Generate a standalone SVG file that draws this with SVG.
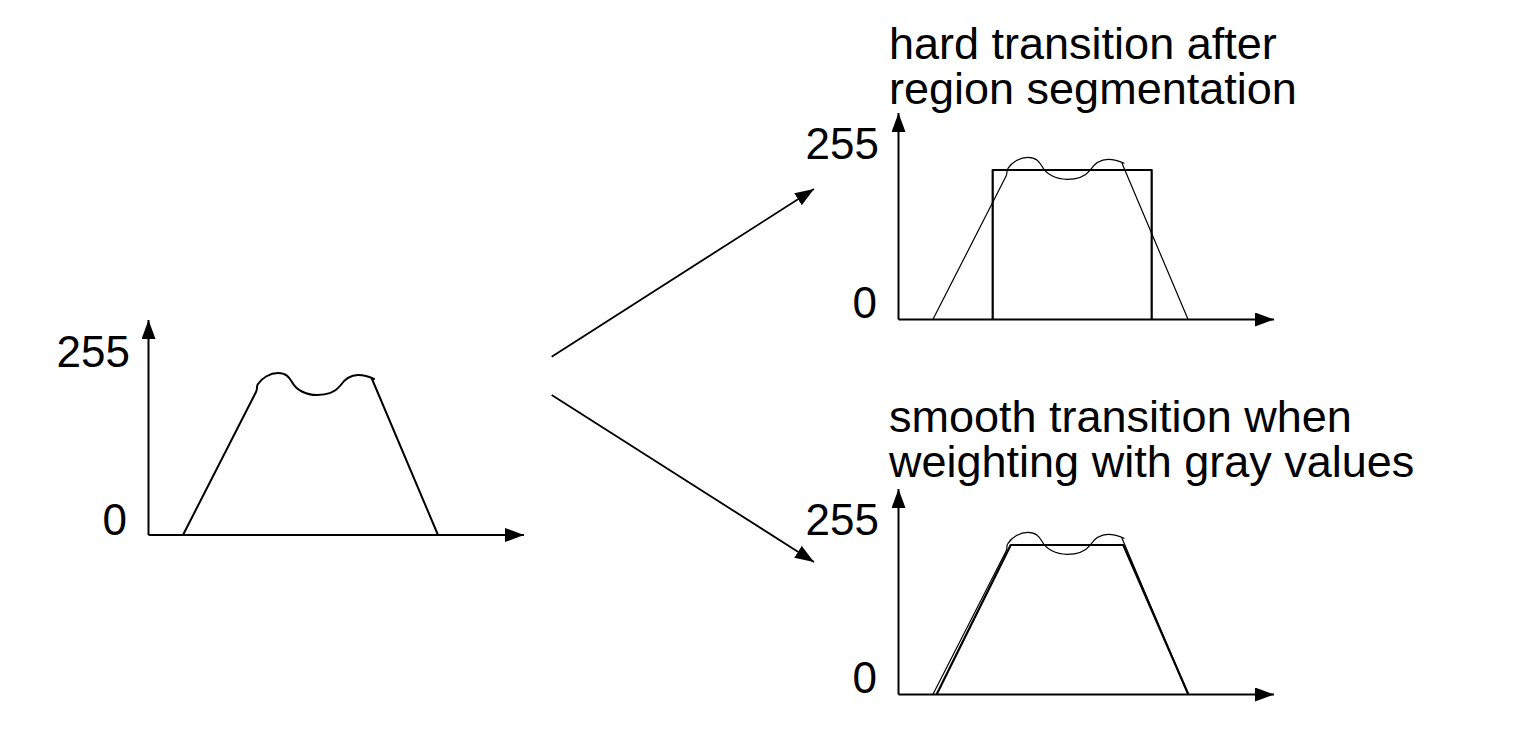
<svg xmlns="http://www.w3.org/2000/svg" width="1516" height="741" viewBox="0 0 1516 741">
<style>
  text { font-family: "Liberation Sans", Arial, sans-serif; fill: #000; }
  .num { font-size: 44px; text-anchor: end; }
  .title { font-size: 45px; }
  .axis { stroke: #000; stroke-width: 2; fill: none; marker-end: url(#ah); }
  .curve { stroke: #000; stroke-width: 2; fill: none; stroke-linejoin: round; stroke-linecap: round; }
  .thin { stroke: #000; stroke-width: 1.2; fill: none; stroke-linejoin: round; stroke-linecap: round; }
  .thick { stroke: #000; stroke-width: 2.2; fill: none; stroke-linejoin: round; }
  .conn { stroke: #000; stroke-width: 1.8; fill: none; marker-end: url(#ah); }
</style>
<defs>
  <marker id="ah" markerUnits="userSpaceOnUse" markerWidth="20" markerHeight="15" refX="19" refY="7" orient="auto" viewBox="0 0 20 15">
    <path d="M0,0 L19,7 L0,14 z" fill="#000"/>
  </marker>
  <g id="profile">
    <path d="M183,535 L256,392 C258,388 256,386 258,384 C262,378 270,373 278,373 C286,373 289,377 292,382 C296,390 306,395 317,395 C330,395 336,391 340,386 C344,380 350,375 358,375 C365,375 370,377 374,379"/>
    <path d="M372,379 L438,535"/>
  </g>
</defs>
<rect width="1516" height="741" fill="#fff"/>

<g id="input-profile">
  <line class="axis" x1="148.5" y1="535" x2="148.5" y2="320"/>
  <line class="axis" x1="148.5" y1="535" x2="524" y2="535"/>
  <use href="#profile" class="curve"/>
  <text class="num" x="130" y="367">255</text>
  <text class="num" x="127" y="535">0</text>
</g>

<g id="hard-transition">
  <text class="title" x="889" y="59">hard transition after</text>
  <text class="title" x="889" y="104">region segmentation</text>
  <line class="axis" x1="898.5" y1="319.5" x2="898.5" y2="113"/>
  <line class="axis" x1="898.5" y1="319.5" x2="1274" y2="319.5"/>
  <use href="#profile" class="thin" transform="translate(750,-215.7)"/>
  <path class="thick" d="M992.7,319.5 L992.7,170 L1151.7,170 L1151.7,319.5"/>
  <text class="num" x="879" y="159">255</text>
  <text class="num" x="877" y="318">0</text>
</g>

<g id="smooth-transition">
  <text class="title" x="889" y="432">smooth transition when</text>
  <text class="title" x="889" y="477">weighting with gray values</text>
  <line class="axis" x1="898.5" y1="694.5" x2="898.5" y2="489"/>
  <line class="axis" x1="898.5" y1="694.5" x2="1274" y2="694.5"/>
  <use href="#profile" class="thin" transform="translate(750,159.3)"/>
  <path class="thick" d="M936.7,694.3 L1010.7,545 L1123.3,545 L1188.3,694.3"/>
  <text class="num" x="879" y="535">255</text>
  <text class="num" x="877" y="693">0</text>
</g>

<g id="connectors">
  <line class="conn" x1="551.7" y1="356.7" x2="814" y2="189"/>
  <line class="conn" x1="551.7" y1="395" x2="814" y2="562"/>
</g>
</svg>
